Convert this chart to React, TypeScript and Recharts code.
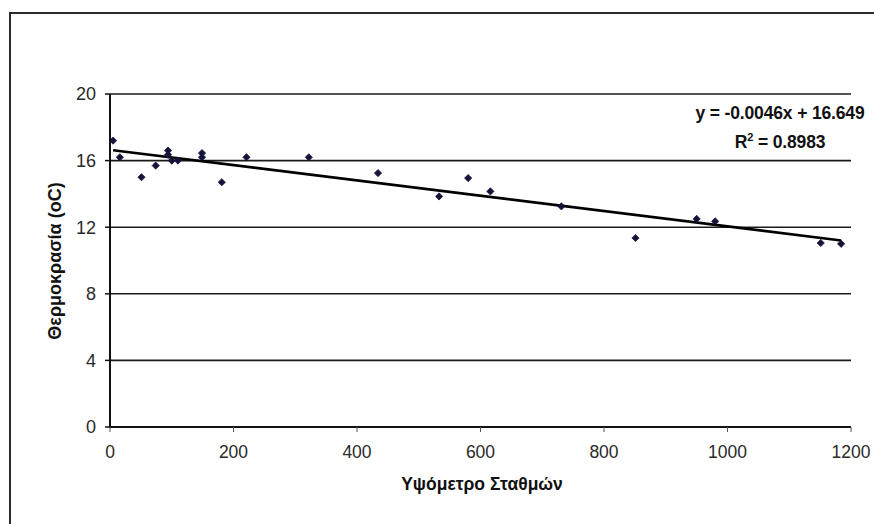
import React from "react";
import {
  ScatterChart,
  Scatter,
  XAxis,
  YAxis,
  CartesianGrid,
  ReferenceLine,
} from "recharts";

const altitudes = [5, 16, 51, 74, 94, 94, 100, 110, 149, 149, 181, 221, 322, 434, 533, 580, 616, 731, 851, 950, 980, 1151, 1184];
const temperatures = [17.2, 16.2, 15.0, 15.7, 16.6, 16.35, 16.0, 16.0, 16.45, 16.2, 14.7, 16.2, 16.2, 15.25, 13.85, 14.95, 14.15, 13.25, 11.35, 12.5, 12.35, 11.05, 11.0];
const xTicks = [0, 200, 400, 600, 800, 1000, 1200];
const yTicks = [0, 4, 8, 12, 16, 20];
const trendSlope = -0.0046;
const trendIntercept = 16.649;
const trendRange = [5, 1184];

const points = altitudes.map((x, i) => ({ x, y: temperatures[i] }));
const trendSegment = trendRange.map((x) => ({ x, y: trendIntercept + trendSlope * x }));

const FONT = '"Liberation Sans", Arial, sans-serif';

const Diamond = (props: any) => {
  const { cx, cy } = props;
  if (cx == null || cy == null) return null;
  const h = 3.6;
  return (
    <polygon
      points={`${cx},${cy - h} ${cx + h},${cy} ${cx},${cy + h} ${cx - h},${cy}`}
      fill="#14143a"
      stroke="#14143a"
      strokeWidth={0.8}
    />
  );
};

const textBase: React.CSSProperties = {
  position: "absolute",
  transform: "translate(-50%, -50%)",
  whiteSpace: "nowrap",
  fontWeight: "bold",
  color: "#111",
};

export default function App() {
  return (
    <div
      style={{
        position: "fixed",
        left: 0,
        top: 0,
        width: 874,
        height: 524,
        overflow: "hidden",
        background: "#fff",
        fontFamily: FONT,
      }}
    >
      <div
        style={{
          position: "absolute",
          left: 9,
          top: 12,
          width: 900,
          height: 600,
          border: "2px solid #2a2a2a",
          boxSizing: "border-box",
        }}
      />
      <div style={{ position: "absolute", left: 8, top: 8 }}>
        <ScatterChart
          width={866}
          height={516}
          margin={{ top: 86, right: 23, bottom: 57, left: 42 }}
          style={{ overflow: "visible" }}
        >
          <CartesianGrid
            vertical={false}
            stroke="#1a1a1a"
            strokeWidth={1.6}
            horizontalValues={yTicks}
          />
          <XAxis
            type="number"
            dataKey="x"
            domain={[0, 1200]}
            ticks={xTicks}
            height={40}
            tickSize={5}
            tickMargin={14}
            axisLine={{ stroke: "#111", strokeWidth: 2 }}
            tickLine={{ stroke: "#555", strokeWidth: 1 }}
            tick={{ fontSize: 17.5, fill: "#2a2a2a", fontFamily: FONT }}
            allowDataOverflow
          />
          <YAxis
            type="number"
            dataKey="y"
            domain={[0, 20]}
            ticks={yTicks}
            width={60}
            tickSize={5}
            tickMargin={9}
            axisLine={{ stroke: "#111", strokeWidth: 2 }}
            tickLine={{ stroke: "#111", strokeWidth: 1.5 }}
            tick={{ fontSize: 18, fill: "#2a2a2a", fontFamily: FONT }}
            allowDataOverflow
          />
          <ReferenceLine
            segment={trendSegment}
            stroke="#000"
            strokeWidth={2.6}
            ifOverflow="visible"
          />
          <Scatter
            data={points}
            shape={<Diamond />}
            isAnimationActive={false}
          />
        </ScatterChart>
      </div>
      <div style={{ ...textBase, left: 780, top: 113, fontSize: 17.5, letterSpacing: -0.15 }}>
        y = -0.0046x + 16.649
      </div>
      <div style={{ ...textBase, left: 780, top: 142, fontSize: 17.5, letterSpacing: -0.15 }}>
        R<sup style={{ fontSize: 11 }}>2</sup> = 0.8983
      </div>
      <div style={{ ...textBase, left: 482, top: 484, fontSize: 17.5 }}>
        Υψόμετρο Σταθμών
      </div>
      <div
        style={{
          ...textBase,
          left: 55,
          top: 261,
          fontSize: 18,
          transform: "translate(-50%, -50%) rotate(-90deg)",
        }}
      >
        Θερμοκρασία (oC)
      </div>
    </div>
  );
}
